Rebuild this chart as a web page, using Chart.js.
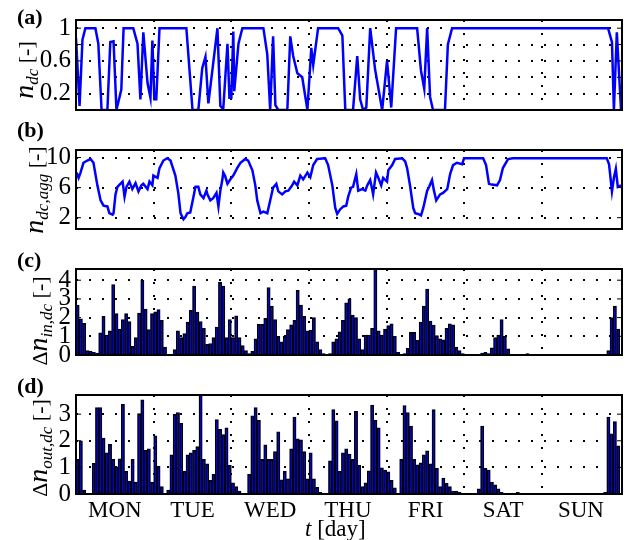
<!DOCTYPE html>
<html>
<head>
<meta charset="utf-8">
<script src="https://cdn.jsdelivr.net/npm/chart.js@4.4.0/dist/chart.umd.min.js"></script>
<style>
  body { margin: 0; background: #fff; }
  #wrap { position: relative; width: 631px; height: 540px; font-family: 'Liberation Serif', 'Times New Roman', serif; color: #000; }
  canvas { position: absolute; left: 0; }
  .tag { position: absolute; left: 17px; font-weight: bold; font-size: 22px; line-height: 26px; }
  .ylab { position: absolute; white-space: nowrap; font-size: 22px; line-height: 26px; transform: translate(-50%, -50%) rotate(-90deg); }
  .ylab .n { font-style: italic; font-size: 28px; }
  .ylab sub { font-style: italic; font-size: 17px; vertical-align: -0.3em; line-height: 0; }
  #xlab { position: absolute; left: 305px; top: 516px; font-size: 23px; line-height: 26px; white-space: nowrap; }
</style>
</head>
<body>
<div id="wrap">
  <canvas id="pa" width="631" height="130" style="top:0px"></canvas>
  <canvas id="pb" width="631" height="119" style="top:130px"></canvas>
  <canvas id="pc" width="631" height="126" style="top:249px"></canvas>
  <canvas id="pd" width="631" height="165" style="top:375px"></canvas>

  <div class="tag" style="top:4px">(a)</div>
  <div class="tag" style="top:117px">(b)</div>
  <div class="tag" style="top:247px">(c)</div>
  <div class="tag" style="top:373px">(d)</div>

  <div class="ylab" style="left:25px; top:70px"><span class="n">n</span><sub>dc</sub> [-]</div>
  <div class="ylab" style="left:35px; top:190px"><span class="n">n</span><sub>dc,agg</sub> [-]</div>
  <div class="ylab" style="left:39px; top:321px">Δ<span class="n">n</span><sub>in,dc</sub> [-]</div>
  <div class="ylab" style="left:39px; top:448px">Δ<span class="n">n</span><sub>out,dc</sub> [-]</div>

  <div id="xlab"><i>t</i> [day]</div>
</div>

<script>
// Days of the week (labels under panel d)
const dayLabels = ['MON', 'TUE', 'WED', 'THU', 'FRI', 'SAT', 'SUN'];

// (a) n_dc, hours since Monday 00:00
const aHour = [0, 1.1, 2, 2.9, 6, 6.9, 7.9, 9.7, 10.6, 11.6,
  12.5, 14, 14.7, 17.7, 19, 19.9, 20.8, 22.1, 23, 23.6,
  24.2, 24.8, 25.8, 34.1, 36, 37.8, 39, 40, 40.9, 43.7,
  44.6, 45.5, 46.8, 47.4, 48, 48.6, 48.9, 50.2, 51.4, 57.9,
  59.1, 60, 60.9, 61.6, 62.5, 65.3, 66.2, 67.1, 68.4, 69.9,
  71.5, 72.7, 73.3, 74.8, 81, 82.3, 83.2, 85.6, 86.9, 87.8,
  88.7, 89.7, 90.9, 92.4, 94.6, 96.1, 97.4, 98.9, 105.4, 106.6,
  107.6, 108.5, 109.4, 110.3, 114, 114.9, 116.2, 164.4, 165.6, 166.2,
  167.1, 168.4];
const aVal = [0.88, 0.05, 0.86, 1, 1, 0.81, 0, 0, 0.83, 0.84,
  0, 0.25, 1, 1, 0.81, 0.13, 0.95, 0.33, 0.15, 0.85,
  0.13, 0.13, 1, 1, 0, 0, 0.51, 0.65, 0.08, 1,
  0.05, 0.01, 0.81, 0.15, 0.15, 0.96, 0.23, 0.81, 1, 1,
  0.68, 0, 0.9, 0.06, 0, 0, 0.9, 0.66, 0.45, 0.4,
  0, 0.76, 0.55, 1, 1, 0.91, 0, 0, 0.66, 0.13,
  0, 0.03, 1, 0.5, 0, 0.6, 0.03, 1, 1, 0.48,
  0.26, 1, 0.16, 0, 0, 0.8, 1, 1, 0.83, 0,
  0.95, 0];

// (b) n_dc,agg
const bHour = [0.2, 0.8, 1.4, 2.3, 3.5, 4.5, 5.4, 6.6, 7.6, 8.5,
  9.7, 10.3, 11.3, 11.6, 12.2, 12.8, 13.7, 14.4, 15.0, 15.6,
  16.5, 17.4, 18.4, 19.3, 20.2, 20.8, 22.1, 22.7, 23.6, 23.9,
  25.2, 25.8, 27.0, 28.2, 29.2, 29.8, 30.7, 31.6, 32.3, 33.2,
  33.8, 34.4, 35.3, 36.3, 36.9, 37.8, 38.4, 39.4, 40.3, 40.6,
  41.5, 42.4, 43.4, 44.0, 44.6, 45.2, 45.5, 46.1, 46.8, 47.7,
  48.6, 49.8, 50.8, 52.3, 53.2, 54.5, 55.4, 56.0, 57.0, 57.9,
  59.1, 60.0, 60.9, 61.9, 62.5, 63.7, 64.7, 65.6, 66.8, 67.4,
  68.4, 69.3, 70.2, 71.5, 72.4, 73.3, 74.5, 77.0, 77.9, 79.2,
  80.1, 80.7, 81.6, 82.6, 83.5, 84.1, 85.0, 85.6, 86.6, 87.2,
  88.4, 89.4, 90.0, 90.9, 91.5, 91.8, 92.7, 93.4, 94.3, 94.9,
  96.1, 96.5, 97.7, 98.6, 100.8, 101.7, 102.3, 103.2, 104.2, 104.8,
  105.7, 106.6, 107.3, 108.5, 109.1, 110.0, 110.6, 111.3, 112.5, 113.4,
  114.7, 115.6, 116.5, 117.7, 119.3, 119.9, 125.8, 126.7, 127.6, 128.5,
  130.1, 131.0, 131.9, 133.5, 135.0, 164.0, 164.7, 165.6, 166.2, 166.8,
  167.4, 168.4];
const bVal = [8.0, 7.3, 8.0, 9.3, 9.6, 9.8, 9.3, 6.3, 4.3, 3.6,
  3.5, 2.6, 2.4, 2.6, 5.1, 6.1, 6.5, 6.8, 4.8, 6.1,
  6.8, 5.8, 6.6, 5.5, 6.3, 6.5, 5.8, 6.8, 6.3, 7.6,
  7.3, 8.6, 9.6, 9.9, 9.6, 8.8, 7.6, 5.3, 2.6, 1.8,
  2.1, 2.6, 2.7, 4.8, 6.1, 6.1, 5.1, 4.6, 5.6, 5.1,
  4.3, 4.6, 5.3, 3.5, 5.6, 7.0, 8.0, 7.5, 6.5, 7.1,
  7.6, 8.6, 9.3, 9.8, 9.6, 8.3, 6.3, 4.3, 2.6, 2.8,
  2.6, 4.3, 6.0, 6.5, 5.5, 5.1, 5.5, 5.6, 6.3, 6.8,
  6.3, 7.6, 7.1, 8.0, 7.4, 9.0, 9.8, 9.9, 9.0, 6.3,
  3.3, 2.5, 3.1, 3.5, 3.6, 4.8, 6.0, 6.1, 7.8, 5.6,
  5.8, 5.6, 6.3, 7.0, 5.8, 5.1, 8.0, 7.3, 6.3, 7.3,
  6.8, 8.3, 9.0, 9.8, 9.9, 9.5, 8.6, 6.3, 3.3, 2.6,
  2.5, 2.3, 3.3, 5.6, 6.1, 7.0, 5.6, 4.3, 5.1, 5.3,
  5.8, 7.8, 9.0, 9.3, 9.1, 9.9, 9.9, 9.0, 6.5, 6.4,
  6.3, 7.0, 8.6, 9.8, 9.9, 9.9, 9.1, 5.5, 7.3, 8.5,
  6.1, 6.3];

// (c) hourly Δn_in,dc (168 hours)
const cIn = [2.67, 1.93, 1.69, 0.24, 0.21, 0.14, 0.1, 1.19, 2.07, 1.07,
  1.29, 3.76, 2.21, 1.39, 1.9, 2.21, 1.79, 0.47, 0.93, 2.24,
  4.0, 2.46, 1.36, 2.21, 2.31, 2.43, 1.86, 0.43, 0.04, 0.04,
  0.29, 1.29, 0.93, 1.14, 1.76, 2.39, 3.69, 2.29, 1.79, 1.43,
  0.57, 0.61, 0.93, 1.5, 3.9, 3.69, 0.93, 1.9, 0.93, 2.1,
  0.93, 0.5, 0.24, 0.07, 0.19, 0.86, 1.64, 1.64, 1.96, 3.6,
  2.61, 1.9, 1.0, 0.71, 1.0, 1.36, 1.61, 1.86, 3.46, 2.67,
  2.07, 1.29, 1.33, 2.0, 0.71, 0.29, 0.07, 0, 0.07, 0.71,
  0.86, 1.24, 1.86, 2.79, 3.0, 2.14, 2.0, 0.86, 0.29, 1.07,
  1.07, 1.43, 4.7, 1.29, 1.07, 1.39, 1.57, 1.67, 1.0, 0.14,
  0, 0.07, 0.36, 1.21, 1.21, 0.79, 1.76, 2.61, 3.53, 1.81,
  1.6, 1.04, 0.86, 0.81, 1.43, 1.67, 1.61, 0.43, 0.24, 0.07,
  0, 0, 0, 0, 0, 0.1, 0.14, 0.07, 0.39, 0.93,
  1.07, 1.9, 1.0, 0.33, 0, 0, 0, 0, 0, 0.07,
  0, 0, 0, 0, 0, 0, 0, 0, 0, 0,
  0, 0, 0, 0, 0, 0, 0, 0, 0, 0,
  0, 0, 0, 0, 0.24, 2.0, 2.61, 1.39];

// (d) hourly Δn_out,dc (168 hours)
const dOut = [1.3, 2.0, 0.15, 0.03, 0.03, 1.15, 3.25, 3.25, 2.1, 1.55,
  1.87, 1.3, 1.02, 1.32, 3.37, 0.85, 0.49, 1.3, 0.45, 3.02,
  3.54, 1.64, 1.7, 0.45, 2.19, 1.05, 0.28, 0, 0.15, 1.47,
  3.0, 3.06, 2.66, 0.85, 1.47, 1.55, 1.64, 1.78, 3.8, 1.3,
  1.13, 0.51, 0.74, 2.8, 2.43, 2.23, 2.49, 1.08, 0.42, 0.28,
  0.11, 0.03, 0, 0.74, 2.94, 3.25, 2.77, 1.3, 1.85, 1.3,
  1.3, 1.59, 2.34, 0.53, 0.85, 0.57, 1.7, 2.89, 2.07, 2.04,
  1.59, 0.57, 1.55, 0.57, 0.25, 0.06, 0, 0, 1.25, 3.17,
  2.75, 0.85, 1.55, 1.7, 1.5, 1.3, 3.11, 1.08, 0.28, 0.42,
  0.87, 3.34, 2.77, 2.49, 0.98, 0.9, 0.83, 0.51, 0.23, 0.03,
  1.3, 3.32, 3.06, 2.55, 1.3, 1.1, 1.17, 1.47, 1.62, 1.13,
  3.17, 0.96, 0.28, 0.6, 0.4, 0.28, 0.11, 0.11, 0.06, 0,
  0, 0, 0, 0, 0.19, 2.55, 0.96, 0.9, 0.45, 0.34,
  0.19, 0.06, 0, 0, 0, 0, 0.06, 0, 0, 0,
  0, 0, 0, 0, 0, 0, 0, 0, 0, 0,
  0, 0, 0, 0, 0, 0, 0, 0, 0, 0,
  0, 0, 0, 0.06, 2.89, 2.26, 2.72, 1.81];

// y tick values per panel
const aTicks = [0.2, 0.4, 0.6, 0.8, 1];
const aTickText = [0.2, 0.6, 1];
const bTicks = [2, 6, 10];
const cTicks = [0, 1, 2, 3, 4];
const dTicks = [0, 1, 2, 3];

const SERIF = "'Liberation Serif', 'Times New Roman', serif";
const DAY_FONT = { family: SERIF, size: 23 };
const TICK_FONT = { family: SERIF, size: 25 };
const DOTS = [2, 11];
const CLEAR = 'rgba(0,0,0,0)';

// x axis: hours of the week, dotted line at each midnight
function xScale(showDays) {
  return {
    type: 'linear', min: 0, max: 168.7, offset: false,
    afterBuildTicks: s => {
      const t = [];
      for (let v = 0; v <= 168; v += 12) t.push({ value: v });
      s.ticks = t;
    },
    afterFit: s => { s.height = showDays ? 46 : 6; },
    grid: {
      offset: false, drawTicks: false, lineWidth: 2,
      color: c => (c.tick && c.tick.value % 24 === 0 && c.tick.value > 0 && c.tick.value < 168) ? '#000' : CLEAR
    },
    border: { display: false, dash: DOTS },
    ticks: {
      display: showDays, autoSkip: false, maxRotation: 0, padding: 3, color: '#000', font: DAY_FONT,
      callback: v => v % 24 === 12 ? dayLabels[(v - 12) / 24] : ''
    }
  };
}

function yScale(min, max, ticks, fmt) {
  return {
    min: min, max: max,
    afterBuildTicks: s => { s.ticks = ticks.map(v => ({ value: v })); },
    afterFit: s => { s.width = 76; },
    grid: {
      drawTicks: false, lineWidth: 2,
      color: c => (c.tick && c.tick.value > min && c.tick.value < max) ? '#000' : CLEAR
    },
    border: { display: false, dash: DOTS },
    ticks: { autoSkip: false, padding: 5, color: '#000', font: TICK_FONT, callback: fmt || (v => String(v)) }
  };
}

// black frame round the plot area, with small inside ticks
const boxPlugin = {
  id: 'box',
  afterDraw(chart) {
    const { ctx, chartArea: a } = chart;
    const ys = chart.scales.y;
    ctx.save();
    ctx.strokeStyle = '#000';
    ctx.lineWidth = 1;
    ys.ticks.forEach(t => {
      const y = ys.getPixelForValue(t.value);
      ctx.beginPath();
      ctx.moveTo(a.left, y); ctx.lineTo(a.left + 5, y);
      ctx.moveTo(a.right, y); ctx.lineTo(a.right - 5, y);
      ctx.stroke();
    });
    ctx.lineWidth = 2;
    ctx.strokeRect(a.left, a.top, a.right - a.left, a.bottom - a.top);
    ctx.restore();
  }
};

function baseOptions(padTop, showDays, y) {
  return {
    responsive: false,
    animation: false,
    layout: { padding: { top: padTop, right: 9, left: 0, bottom: 0 } },
    plugins: { legend: { display: false }, tooltip: { enabled: false } },
    scales: { x: xScale(showDays), y: y }
  };
}

function lineChart(id, hours, vals, padTop, y) {
  new Chart(document.getElementById(id), {
    type: 'line',
    data: {
      datasets: [{
        data: hours.map((h, i) => ({ x: h, y: vals[i] })),
        borderColor: '#0000ff', borderWidth: 2.5, pointRadius: 0, tension: 0
      }]
    },
    options: baseOptions(padTop, false, y),
    plugins: [boxPlugin]
  });
}

function barChart(id, vals, padTop, showDays, y) {
  new Chart(document.getElementById(id), {
    type: 'bar',
    data: {
      datasets: [{
        data: vals.map((v, i) => ({ x: i + 0.5, y: v })),
        backgroundColor: '#0000e0', borderColor: '#000', borderWidth: 1.35,
        barPercentage: 1, categoryPercentage: 1
      }]
    },
    options: baseOptions(padTop, showDays, y),
    plugins: [boxPlugin]
  });
}

lineChart('pa', aHour, aVal, 14, yScale(0, 1.1, aTicks, v => aTickText.includes(v) ? String(v) : ''));
lineChart('pb', bHour, bVal, 8, yScale(0.5, 11, bTicks));
barChart('pc', cIn, 12, false, yScale(0, 4.6, cTicks));
barChart('pd', dOut, 9, true, yScale(0, 3.72, dTicks));
</script>
</body>
</html>
